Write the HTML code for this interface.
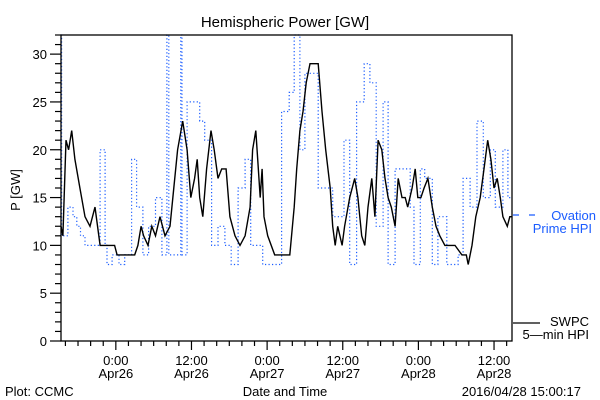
<!DOCTYPE html>
<html><head><meta charset="utf-8">
<style>
html,body{margin:0;padding:0;background:#fff;}
svg{display:block;font-family:"Liberation Sans",sans-serif;}
</style></head><body>
<svg id="chart" width="600" height="400" viewBox="0 0 600 400" xmlns="http://www.w3.org/2000/svg">
<rect x="0" y="0" width="600" height="400" fill="#fff"/>
<text x="285" y="27" font-size="15" text-anchor="middle">Hemispheric Power [GW]</text>
<text transform="translate(20,190) rotate(-90)" font-size="13" text-anchor="middle">P [GW]</text>
<text x="285" y="396" font-size="13" text-anchor="middle">Date and Time</text>
<text x="5" y="396" font-size="13">Plot: CCMC</text>
<text x="581" y="396" font-size="13" text-anchor="end">2016/04/28 15:00:17</text>
<g id="axes"></g>
<g id="series"></g>
<rect x="61" y="35" width="451" height="306" fill="none" stroke="#000" stroke-width="1.3"/>
<g>
<line x1="513" y1="215" x2="541" y2="215" stroke="#1a5cff" stroke-width="1.3" stroke-dasharray="6,10"/>
<text x="596" y="220" font-size="13" fill="#1a5cff" text-anchor="end">Ovation</text>
<text x="592" y="233" font-size="13" fill="#1a5cff" text-anchor="end">Prime HPI</text>
</g>
<g>
<line x1="513" y1="323" x2="540" y2="323" stroke="#000" stroke-width="1.3"/>
<text x="589" y="326" font-size="13" text-anchor="end">SWPC</text>
<text x="589" y="339" font-size="13" text-anchor="end">5—min HPI</text>
</g>
</svg>
<script>
// hours since 2016-04-26 00:00
const xTickHours = [0, 12, 24, 36, 48, 60];
const xTickTimes = ["0:00", "12:00", "0:00", "12:00", "0:00", "12:00"];
const xTickDates = ["Apr26", "Apr26", "Apr27", "Apr27", "Apr28", "Apr28"];
const yTickValues = [0, 5, 10, 15, 20, 25, 30];
const swpcHours = [-8.7,-8.4,-7.9,-7.5,-7.0,-6.5,-5.7,-4.9,-4.1,-3.3,-2.5,-0.2,0.2,3.0,3.5,4.0,4.4,5.1,5.7,6.3,7.0,7.8,8.6,9.2,9.8,10.6,11.3,11.9,12.5,12.9,13.3,13.8,14.4,15.1,15.6,16.2,16.8,17.5,18.1,18.9,19.7,20.5,21.3,21.7,22.2,22.5,22.9,23.2,23.5,24.1,25.2,27.6,28.3,28.7,29.2,29.7,30.2,30.8,32.1,32.7,33.3,34.0,34.4,34.8,35.2,35.9,36.3,37.1,37.9,38.4,39.0,39.5,40.0,40.6,41.1,41.6,42.2,42.7,43.2,43.7,44.3,44.8,45.4,45.9,46.3,47.0,47.5,47.9,48.4,48.9,49.5,50.2,50.8,51.4,52.2,53.8,54.9,55.6,55.9,56.5,57.1,57.8,58.4,59.0,59.5,60.0,60.5,61.0,61.4,62.1,62.5,62.85];
const swpcValues = [12,11,21,20,22,19,16,13,12,14,10,10,9,9,10,12,11,10,12,11,13,11,12,16,20,23,20,15,17,19,15,13,18,22,20,17,18,18,13,11,10,11,14,20,22,19,15,18,13,11,9,9,14,18,22,24,27,29,29,24,20,16,12,10,12,10,12,15,17,15,11,10,14,17,13,21,20,17,15,14,12,17,15,15,14,16,18,15,15,16,17,14,12,11,10,10,9,9,8,10,13,15,18,21,19,16,17,15,13,12,13,13];
const ovationHours = [-8.9,-8.6,-7.6,-6.8,-6.2,-5.6,-4.9,-2.5,-1.7,-1.4,-0.6,0.5,1.4,2.5,3.3,4.3,5.2,6.3,7.3,8.1,8.4,10.3,10.5,11.3,13.3,14.1,15.2,16.2,17.3,18.3,19.4,20.5,21.4,23.3,26.3,27.5,28.3,29.2,30.0,32.1,34.4,36.2,37.1,38.2,39.4,40.3,41.3,42.4,43.2,44.3,46.7,47.3,48.3,49.0,50.2,51.1,52.5,54.3,55.1,56.2,57.3,58.3,59.4,60.2,61.4,62.2];
const ovationValues = [32,11,14,13,12,11,10,20,10,8,9,8,9,19,14,9,12,15,9,32,9,32,9,25,23,21,10,12,10,8,16,19,10,8,24,26,32,20,28,16,13,21,8,25,29,27,12,25,8,18,14,8,18,17,8,13,8,9,17,14,23,15,20,14,20,15];

const X0=61, X1=512, Y0=341, Y1=35, HMIN=-8.7, HMAX=62.85, VMIN=0, VMAX=32;
function xs(h){return X0+(h-HMIN)/(HMAX-HMIN)*(X1-X0);}
function ys(v){return Y0-(v-VMIN)/(VMAX-VMIN)*(Y0-Y1);}
function clampV(v){return Math.min(VMAX,Math.max(VMIN,v));}
const NS="http://www.w3.org/2000/svg";
const axes=document.getElementById('axes');
const series=document.getElementById('series');
function mk(tag,attrs){const e=document.createElementNS(NS,tag);for(const k in attrs)e.setAttribute(k,attrs[k]);return e;}

// y ticks
for(let v=VMIN; v<=VMAX; v++){
  const major = yTickValues.indexOf(v)>=0;
  const t=mk('line',{x1:X0-(major?11:6),x2:X0,y1:ys(v),y2:ys(v),stroke:'#000','stroke-width':1.2});
  
  
  axes.appendChild(t);
}
yTickValues.forEach(v=>{
  const t=mk('text',{x:X0-14,y:ys(v)+5,'font-size':13,'text-anchor':'end'});
  t.textContent=String(v);
  
  
  axes.appendChild(t);
});
// x ticks
for(let h=-8; h<=HMAX; h+=2){
  const major = xTickHours.indexOf(h)>=0;
  const t=mk('line',{x1:xs(h),x2:xs(h),y1:Y0,y2:Y0+(major?9:5),stroke:'#000','stroke-width':1.2});
  
  
  axes.appendChild(t);
}
xTickHours.forEach((h,i)=>{
  const a=mk('text',{x:xs(h),y:365,'font-size':13,'text-anchor':'middle'});
  a.textContent=xTickTimes[i];
  
  
  axes.appendChild(a);
  const b=mk('text',{x:xs(h),y:378,'font-size':13,'text-anchor':'middle'});
  b.textContent=xTickDates[i];
  
  
  axes.appendChild(b);
});
// ovation step line
let d='';
ovationHours.forEach((h,i)=>{
  const y=ys(clampV(ovationValues[i]));
  const xa=xs(Math.max(h,HMIN));
  const nh=(i+1<ovationHours.length)?ovationHours[i+1]:HMAX;
  d+=(i===0?'M':'L')+xa.toFixed(1)+','+y.toFixed(1)+'L'+xs(nh).toFixed(1)+','+y.toFixed(1);
});
const op=mk('path',{d:d,fill:'none',stroke:'#1a5cff','stroke-width':1.2,'stroke-dasharray':'1.2,2.3'});


series.appendChild(op);
// swpc line
let d2='';
swpcHours.forEach((h,i)=>{d2+=(i===0?'M':'L')+xs(h).toFixed(1)+','+ys(clampV(swpcValues[i])).toFixed(1);});
const sp=mk('path',{d:d2,fill:'none',stroke:'#000','stroke-width':1.4,'stroke-linejoin':'miter'});


series.appendChild(sp);
</script>
</body></html>
